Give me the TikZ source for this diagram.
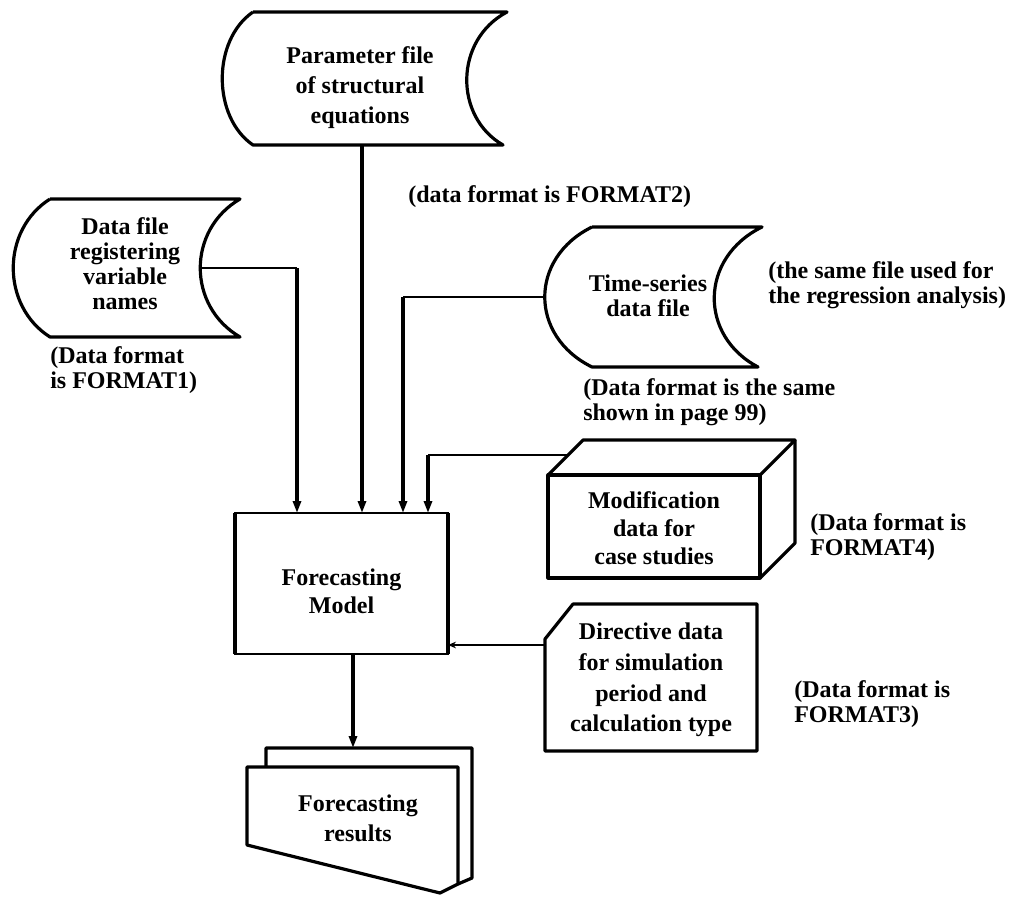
\documentclass[tikz,border=0pt]{standalone}
\usepackage{fontspec}
\setmainfont{Liberation Serif}
\usetikzlibrary{arrows.meta,calc}
\begin{document}
\begin{tikzpicture}[x=0.75pt,y=-0.75pt,
  outline/.style={line width=2.4pt,line join=round},
  txt/.style={font=\bfseries\fontsize{18}{22}\selectfont,align=center,inner sep=0pt},
  note/.style={font=\bfseries\fontsize{18}{19}\selectfont,align=left,inner sep=0pt,anchor=west},
  feed/.style={line width=1pt},
  drop/.style={line width=2.6pt,-{Triangle[length=9pt,width=6pt]}},
  thinhead/.style={line width=1pt,-{Stealth[length=6pt,width=5pt]}},
]
\useasboundingbox (0,0) rectangle (1019,896);

% ---- parameter file (stored data) ----
\draw[outline] (253,12) -- (507,12) .. controls (454,40) and (454,117) .. (503,145)
  -- (253,145) .. controls (212,117) and (212,40) .. (253,12);
\node[txt,font=\bfseries\fontsize{18}{22.5}\selectfont] (pf) at (360,88) {Parameter file\\of structural\\equations};
\coordinate (pf-s) at (362,145);

% ---- data file of variable names ----
\draw[outline] (50,199) -- (240,199) .. controls (187,230) and (187,306) .. (240,337)
  -- (50,337) .. controls (1,306) and (1,230) .. (50,199);
\node[txt,font=\bfseries\fontsize{18}{18.75}\selectfont] (df) at (125,264) {Data file\\registering\\variable\\names};
\coordinate (df-e) at (200,268);
\coordinate (df-c) at (297,268);

% ---- time-series data file ----
\draw[outline] (592,227) -- (762,227) .. controls (699,258) and (699,336) .. (758,367)
  -- (592,367) .. controls (529,336) and (529,258) .. (592,227);
\node[txt,font=\bfseries\fontsize{18}{19}\selectfont] (ts) at (648,296) {Time-series\\data file};
\coordinate (ts-w) at (545,297);
\coordinate (ts-c) at (403,297);

% ---- modification data (cube) ----
\draw[outline] (548,475) rectangle (760,578);
\draw[outline] (548,475) -- (583,440) -- (795,440) -- (760,475);
\draw[outline] (795,440) -- (795,543) -- (760,578);
\node[txt,font=\bfseries\fontsize{18}{21}\selectfont] (mod) at (654,528) {Modification\\data for\\case studies};
\coordinate (mod-w) at (568,455);
\coordinate (mod-c) at (428,455);

% ---- directive data (card) ----
\draw[outline] (573,604) -- (757,604) -- (757,751) -- (545,751) -- (545,639) -- cycle;
\node[txt,font=\bfseries\fontsize{18}{23}\selectfont] (dir) at (651,680) {Directive data\\for simulation\\period and\\calculation type};
\coordinate (dir-w) at (545,645);

% ---- forecasting model (heavy sides, light top and bottom) ----
\node[minimum width=159.75pt,minimum height=105.75pt,inner sep=0pt,outer sep=0pt]
  (model) at (341.5,583.5) {};
\draw[line width=1.4pt] (model.north west) rectangle (model.south east);
\draw[line width=3.2pt] (model.north west) -- (model.south west)
  (model.north east) -- (model.south east);
\node[txt,font=\bfseries\fontsize{18}{21}\selectfont] (modeltxt) at (341.5,591) {Forecasting\\Model};
\coordinate (model-out) at (353,654);

% ---- forecasting results (multiple documents) ----
\draw[outline] (266,767) -- (266,748) -- (472,748) -- (472,878) -- (458,884);
\draw[outline] (247,767) -- (458,767) -- (458,884) -- (440,893) -- (247,845) -- cycle;
\node[txt,font=\bfseries\fontsize{18}{22.5}\selectfont] (res) at (358,818) {Forecasting\\results};
\coordinate (res-top) at (353,748);

% ---- notes ----
\node[note] (n1) at (50,370) {(Data format\\is FORMAT1)};
\node[note] (n2) at (408,197) {(data format is FORMAT2)};
\node[note] (n3) at (768,285) {(the same file used for\\the regression analysis)};
\node[note] (n4) at (583,402) {(Data format is the same\\shown in page 99)};
\node[note] (n5) at (810,537) {(Data format is\\FORMAT4)};
\node[note] (n6) at (794,704) {(Data format is\\FORMAT3)};

% ---- connectors ----
\draw[drop] (pf-s) -- (pf-s |- model.north);
\draw[feed] (df-e) -- (df-c);
\draw[drop] (df-c) -- (df-c |- model.north);
\draw[feed] (ts-w) -- (ts-c);
\draw[drop] (ts-c) -- (ts-c |- model.north);
\draw[feed] (mod-w) -- (mod-c);
\draw[drop] (mod-c) -- (mod-c |- model.north);
\draw[thinhead] (dir-w) -- (dir-w -| model.east);
\draw[drop] (model-out) -- (res-top);
\end{tikzpicture}
\end{document}
